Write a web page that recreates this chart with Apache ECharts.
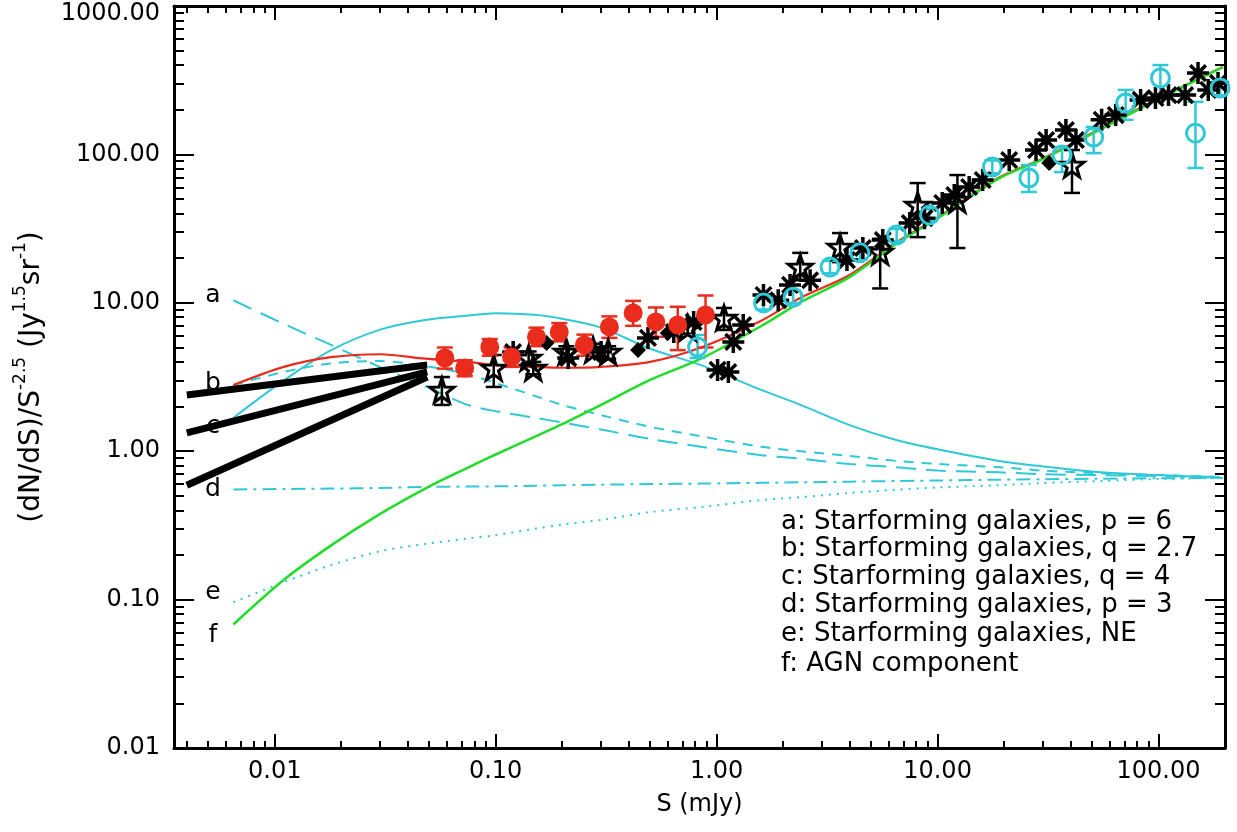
<!DOCTYPE html>
<html>
<head>
<meta charset="utf-8">
<title>Source counts</title>
<script src="https://cdn.jsdelivr.net/npm/echarts@6.0.0/dist/echarts.min.js"></script>
<style>
  html, body { margin: 0; padding: 0; background: #fff; }
  #chart { width: 1237px; height: 832px; }
</style>
</head>
<body>
<div id="chart"></div>
<script>
// flux grid (mJy) the model curves are read on
const modelS = [0.0065, 0.011, 0.018, 0.03, 0.048, 0.075, 0.1, 0.15, 0.2, 0.3, 0.5, 0.85, 1.6, 2.4, 4, 6.5, 10, 19, 30, 55, 100, 196];
const curveA = [10.4, 7.2, 5.2, 3.69, 2.74, 2.05, 1.86, 1.68, 1.56, 1.40, 1.21, 1.07, 0.94, 0.89, 0.82, 0.78, 0.74, 0.72, 0.70, 0.69, 0.68, 0.67];
const curveB = [2.79, 3.42, 3.9, 4.05, 3.75, 3.3, 2.88, 2.36, 2.05, 1.75, 1.46, 1.26, 1.07, 1.0, 0.93, 0.86, 0.82, 0.78, 0.74, 0.71, 0.69, 0.67];
const curveC = [1.68, 3.0, 4.8, 6.6, 7.66, 8.2, 8.5, 8.3, 7.8, 6.8, 4.9, 3.8, 2.58, 2.05, 1.5, 1.19, 1.03, 0.86, 0.79, 0.72, 0.69, 0.66];
const curveD = [0.553, 0.556, 0.56, 0.565, 0.574, 0.578, 0.58, 0.585, 0.59, 0.595, 0.60, 0.605, 0.612, 0.617, 0.623, 0.63, 0.635, 0.643, 0.648, 0.653, 0.657, 0.66];
const curveE = [0.096, 0.131, 0.171, 0.212, 0.237, 0.258, 0.272, 0.30, 0.32, 0.344, 0.389, 0.42, 0.469, 0.49, 0.523, 0.55, 0.57, 0.59, 0.61, 0.63, 0.65, 0.66];
const curveF = [0.068, 0.136, 0.232, 0.378, 0.56, 0.776, 0.95, 1.25, 1.52, 2.05, 3.02, 4.2, 7.0, 10.1, 14.9, 25, 37, 69, 93, 148, 236, 388];
const totalModel = [2.79, 3.7, 4.3, 4.5, 4.2, 4.0, 3.8, 3.7, 3.65, 3.7, 4.0, 5.0, 7.6, 10.8, 15.4, 25.5, 37.5, 70, 94, 150, 238, 390];

// thick black lines (b, c, d) at the faint end
const wedgeS = [0.004, 0.049];
const wedgeB = [2.39, 3.81];
const wedgeC = [1.33, 3.42];
const wedgeD = [0.59, 3.16];

// red filled circles
const redS = [0.0589, 0.0724, 0.094, 0.118, 0.153, 0.194, 0.252, 0.327, 0.419, 0.531, 0.667, 0.891];
const redY = [4.25, 3.64, 5.03, 4.32, 5.89, 6.36, 5.20, 6.88, 8.53, 7.43, 7.08, 8.27];
const redLo = [3.6, 3.2, 4.4, 3.7, 5.1, 5.5, 4.4, 5.8, 7.0, 5.9, 4.8, 5.0];
const redHi = [5.0, 4.1, 5.7, 5.0, 6.8, 7.3, 6.1, 8.1, 10.3, 9.3, 9.4, 11.2];

// black open stars
const starS = [0.0571, 0.098, 0.141, 0.148, 0.209, 0.276, 0.323, 0.740, 1.08, 2.39, 3.62, 5.5, 8.13, 12.3, 40.6];
const starY = [2.58, 3.64, 4.25, 3.64, 4.66, 4.81, 4.66, 6.76, 7.90, 17.4, 23.8, 22.0, 45.6, 49.3, 84.8];
const starLo = [2.05, 2.71, 3.9, 3.3, 4.2, 4.4, 4.2, 6.2, 6.56, 14.2, 18.8, 12.5, 27.7, 23.4, 55.0];
const starHi = [3.16, 4.45, 4.7, 4.0, 5.1, 5.3, 5.1, 7.4, 9.23, 21.7, 29.5, 27.0, 64.1, 72.6, 107];

// black asterisks
const asterS = [0.120, 0.213, 0.300, 0.489, 0.640, 0.787, 1.01, 1.13, 1.19, 1.32, 1.63, 1.90, 2.15, 2.65, 3.89, 4.59, 5.65, 7.48, 8.73, 10.5, 11.9, 13.9, 16.0, 21.1, 27.9, 31.0, 38.1, 42.3, 55.3, 64.0, 83.0, 96.9, 111, 132, 151, 168, 186];
const asterY = [4.66, 4.25, 4.66, 5.80, 6.36, 7.43, 3.53, 3.42, 5.45, 7.08, 11.3, 10.4, 13.2, 14.2, 19.4, 23.4, 26.5, 34.5, 37.2, 47.1, 53.2, 60.3, 67.2, 91.6, 107, 125, 146, 125, 171, 184, 233, 240, 251, 251, 353, 272, 303];

// black filled points
const dotS = [0.170, 0.441, 0.601, 32.0];
const dotY = [5.36, 4.81, 6.26, 87.4];

// cyan open circles
const cyanS = [0.820, 1.63, 2.22, 3.26, 4.45, 6.53, 9.20, 17.7, 25.9, 36.6, 50.9, 71.0, 102, 147, 190];
const cyanY = [5.04, 9.98, 10.9, 17.4, 21.7, 28.6, 39.1, 82.3, 69.3, 99.1, 131, 222, 327, 139, 280];
const cyanLo = [4.25, 9.0, 9.9, 15.8, 19.7, 26.0, 35.5, 74.5, 55.8, 76.0, 102, 171, 244, 81.0, 250];
const cyanHi = [6.07, 11.0, 12.0, 19.2, 23.9, 31.5, 43.0, 91.0, 84.8, 112, 153, 272, 400, 226, 310];

// tick labels
const xMajor = [0.01, 0.1, 1, 10, 100];
const yMajor = [0.01, 0.1, 1, 10, 100, 1000];

const FONT = 'DejaVu Sans';
const CYAN = '#2fc8d6';
const GREEN = '#22dc2a';
const RED = '#ea2c1c';

function minorTicks(lo, hi) {
  let out = [];
  for (let e = -3; e <= 3; e++) {
    for (let m = 2; m <= 9; m++) {
      let v = +(m * Math.pow(10, e)).toPrecision(3);
      if (v > lo && v < hi) out.push(v);
    }
  }
  return out;
}

function zip(xs, ys) {
  return xs.map((x, i) => [x, ys[i]]);
}

function fmt(v) {
  return Number(v).toFixed(2);
}

// the top y label sits a little below its tick so it stays on the page
function fmtY(v) {
  return v >= 1000 ? '{t|' + fmt(v) + '}' : fmt(v);
}

function axis(dim, position, ticks, len, major) {
  let isX = dim === 'x';
  return {
    type: 'log',
    logBase: 10,
    position: position,
    min: isX ? 0.0035 : 0.01,
    max: isX ? 200 : 1000,
    splitLine: {show: false},
    axisLine: {show: major, onZero: false, lineStyle: {color: '#000', width: 3}},
    axisTick: {show: true, inside: true, length: len, customValues: ticks, lineStyle: {color: '#000', width: 2}},
    axisLabel: {show: false},
  };
}

const xMinor = minorTicks(0.0035, 200);
const yMinor = minorTicks(0.01, 1000);

let xAxes = [
  axis('x', 'bottom', xMajor, 14, true),
  axis('x', 'bottom', xMinor, 7, false),
  axis('x', 'top', xMajor, 14, true),
  axis('x', 'top', xMinor, 7, false),
];
xAxes[0].axisLabel = {show: true, customValues: xMajor, formatter: fmt, margin: 12, fontSize: 24, color: '#000', fontFamily: FONT};
xAxes[0].name = 'S (mJy)';
xAxes[0].nameLocation = 'middle';
xAxes[0].nameGap = 45;
xAxes[0].nameTextStyle = {fontSize: 24, color: '#000', fontFamily: FONT};

let yAxes = [
  axis('y', 'left', yMajor, 20, true),
  axis('y', 'left', yMinor, 10, false),
  axis('y', 'right', yMajor, 20, true),
  axis('y', 'right', yMinor, 10, false),
];
yAxes[0].axisLabel = {
  show: true, customValues: yMajor, formatter: fmtY, margin: 14, fontSize: 24, color: '#000', fontFamily: FONT,
  rich: {t: {fontSize: 24, color: '#000', fontFamily: FONT, padding: [16, 0, 0, 0]}},
};
yAxes[0].name = '{n|(dN/dS)/S}{s|-2.5}{n| (Jy}{s|1.5}{n|sr}{s|-1}{n|)}';
yAxes[0].nameLocation = 'middle';
yAxes[0].nameRotate = 90;
yAxes[0].nameGap = 122;
yAxes[0].nameTextStyle = {
  rich: {
    n: {fontSize: 28, lineHeight: 40, color: '#000', fontFamily: FONT},
    s: {fontSize: 17, verticalAlign: 'top', color: '#000', fontFamily: FONT},
  },
};

function curve(data, color, type, width, z) {
  return {
    type: 'line',
    data: data,
    showSymbol: false,
    smooth: 0.3,
    silent: true,
    z: z || 2,
    lineStyle: {color: color, width: width || 2, type: type || 'solid'},
  };
}

function errorBars(xs, lo, hi, color, cap) {
  return {
    type: 'custom',
    silent: true,
    z: 4,
    data: xs.map((x, i) => [x, lo[i], hi[i]]),
    renderItem: function (params, api) {
      let p1 = api.coord([api.value(0), api.value(1)]);
      let p2 = api.coord([api.value(0), api.value(2)]);
      let st = {stroke: color, lineWidth: 2.5};
      return {
        type: 'group',
        children: [
          {type: 'line', shape: {x1: p1[0], y1: p1[1], x2: p2[0], y2: p2[1]}, style: st},
          {type: 'line', shape: {x1: p1[0] - cap, y1: p1[1], x2: p1[0] + cap, y2: p1[1]}, style: st},
          {type: 'line', shape: {x1: p2[0] - cap, y1: p2[1], x2: p2[0] + cap, y2: p2[1]}, style: st},
        ],
      };
    },
  };
}

const STAR = 'path://M0,-10L2.35,-3.24L9.51,-3.09L3.8,1.24L5.88,8.09L0,4L-5.88,8.09L-3.8,1.24L-9.51,-3.09L-2.35,-3.24Z';
const ASTER = 'path://M0,-10L0,10M-10,0L10,0M-7.1,-7.1L7.1,7.1M-7.1,7.1L7.1,-7.1';

function points(xs, ys, symbol, size, style, z) {
  return {
    type: 'scatter',
    data: zip(xs, ys),
    symbol: symbol,
    symbolSize: size,
    z: z,
    silent: true,
    itemStyle: Object.assign({opacity: 1}, style),
  };
}

let series = [
  curve(zip(modelS, curveA), CYAN, [20, 10]),
  curve(zip(modelS, curveB), CYAN, [10, 8]),
  curve(zip(modelS, curveC), CYAN, 'solid'),
  curve(zip(modelS, curveD), CYAN, [14, 6, 3, 6]),
  curve(zip(modelS, curveE), CYAN, [2, 6]),
  curve(zip(modelS, curveF), GREEN, 'solid', 2.5, 3),
  curve(zip(modelS, totalModel), RED, 'solid', 2.2),
  curve(zip(wedgeS, wedgeB), '#000', 'solid', 7, 3),
  curve(zip(wedgeS, wedgeC), '#000', 'solid', 7, 3),
  curve(zip(wedgeS, wedgeD), '#000', 'solid', 7, 3),
  errorBars(starS, starLo, starHi, '#000', 8),
  errorBars(cyanS, cyanLo, cyanHi, CYAN, 8),
  errorBars(redS, redLo, redHi, RED, 8),
  points(asterS, asterY, ASTER, 22, {color: 'rgba(0,0,0,0)', borderColor: '#000', borderWidth: 3.5}, 5),
  points(dotS, dotY, 'diamond', 16, {color: '#000'}, 5),
  points(starS, starY, STAR, 24, {color: 'rgba(0,0,0,0)', borderColor: '#000', borderWidth: 3}, 5),
  points(cyanS, cyanY, 'circle', 18, {color: 'rgba(0,0,0,0)', borderColor: CYAN, borderWidth: 3}, 6),
  points(redS, redY, 'circle', 19, {color: RED}, 6),
];

// curve letters at the left end of each model
const letters = [['a', 295], ['b', 383], ['c', 426], ['d', 489], ['e', 592], ['f', 635]];
// key in the lower right
const keyLines = [
  'a: Starforming galaxies, p = 6',
  'b: Starforming galaxies, q = 2.7',
  'c: Starforming galaxies, q = 4',
  'd: Starforming galaxies, p = 3',
  'e: Starforming galaxies, NE',
  'f: AGN component',
];
const keyY = [522, 549, 577, 605, 634, 664];

let graphics = letters.map(([t, y]) => ({
  type: 'text',
  silent: true,
  style: {text: t, x: 213, y: y, textAlign: 'center', textVerticalAlign: 'middle', font: '25px "DejaVu Sans"', fill: '#000'},
}));
keyLines.forEach((t, i) => {
  graphics.push({
    type: 'text',
    silent: true,
    style: {text: t, x: 781, y: keyY[i], textAlign: 'left', textVerticalAlign: 'middle', font: '26px "DejaVu Sans"', fill: '#000'},
  });
});

const chart = echarts.init(document.getElementById('chart'));
chart.setOption({
  animation: false,
  backgroundColor: '#fff',
  grid: {left: 174, right: 12, top: 6, bottom: 84, containLabel: false, outerBoundsMode: 'none'},
  xAxis: xAxes,
  yAxis: yAxes,
  series: series,
  graphic: graphics,
});
</script>
</body>
</html>
